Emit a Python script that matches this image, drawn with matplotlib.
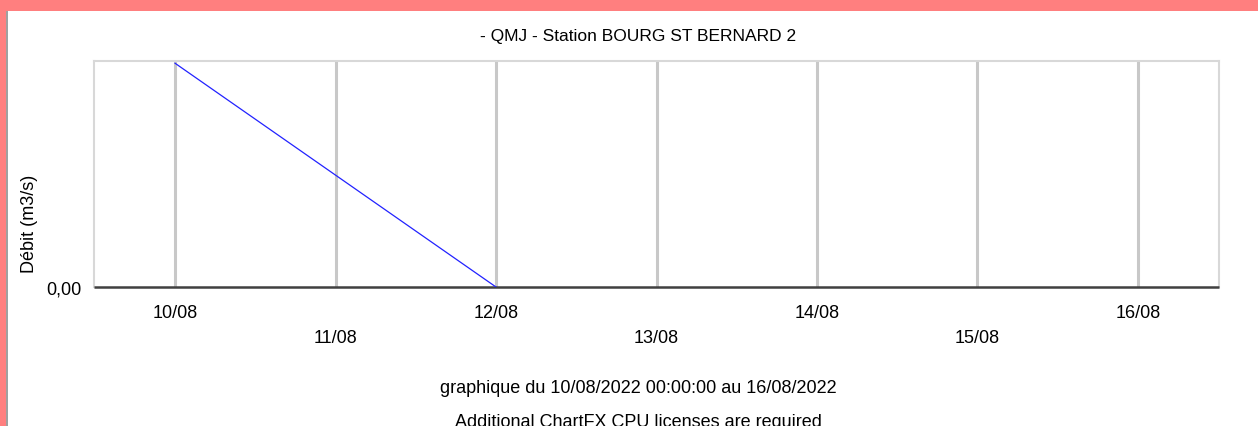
import matplotlib
matplotlib.use("Agg")
import matplotlib.pyplot as plt
import matplotlib.dates as mdates
import pandas as pd
from matplotlib.patches import Rectangle

# daily flow (QMJ), only 0,00 is labelled on the axis
dates = pd.to_datetime(["2022-08-10", "2022-08-11", "2022-08-12"])
debit = [1.0, 0.5, 0.0]

tick_days = pd.date_range("2022-08-10", "2022-08-16", freq="D")
tick_labels = [d.strftime("%d/%m") for d in tick_days]

title = "- QMJ - Station BOURG ST BERNARD 2"
ylabel = "Débit (m3/s)"
footer1 = "graphique du 10/08/2022 00:00:00 au 16/08/2022"
footer2 = "Additional ChartFX CPU licenses are required"

plt.rcParams["font.family"] = ["Liberation Sans", "DejaVu Sans"]
plt.rcParams["font.size"] = 13

W, H = 1258, 427
fig = plt.figure(figsize=(W / 100, H / 100), dpi=100)
fig.patch.set_facecolor("white")

# pink window border (top and left) with thin grey edge
fig.patches.append(Rectangle((0, 1 - 12 / H), 1, 12 / H, transform=fig.transFigure,
                             facecolor="#ff7f7f", edgecolor="none", zorder=0))
fig.patches.append(Rectangle((0, 0), 6 / W, 1, transform=fig.transFigure,
                             facecolor="#ff7f7f", edgecolor="none", zorder=0))
fig.patches.append(Rectangle((6 / W, 0), 1.5 / W, 1 - 12 / H, transform=fig.transFigure,
                             facecolor="#a0a0a0", edgecolor="none", zorder=0))

ax = fig.add_axes([94 / W, 1 - 288 / H, (1219 - 94) / W, (288 - 62) / H])

x = mdates.date2num(dates)
xt = mdates.date2num(tick_days)
ax.plot(x, debit, color="#2222ff", linewidth=0.9, zorder=3)

ax.set_xlim(xt[0] - 0.505, xt[-1] + 0.505)
ax.set_ylim(0, 1.01)

for v in xt:
    ax.axvline(v, color="#c8c8c8", linewidth=2.2, zorder=1)

ax.set_xticks(xt)
ax.set_xticklabels(tick_labels)
ax.set_yticks([0])
ax.set_yticklabels(["0,00"])
ax.tick_params(axis="both", length=0, labelsize=13)
ax.tick_params(axis="y", pad=9)
# staggered date labels, one row for even days, one lower for odd days
for i, t in enumerate(ax.xaxis.get_major_ticks()):
    t.set_pad(12 if i % 2 == 0 else 30)

for side in ["top", "left", "right"]:
    ax.spines[side].set_color("#d8d8d8")
    ax.spines[side].set_linewidth(1.5)
ax.spines["bottom"].set_color("#404040")
ax.spines["bottom"].set_linewidth(1.8)
ax.spines["bottom"].set_capstyle("butt")

fig.text(638 / W, 1 - 37 / H, title, ha="center", va="center", fontsize=12.5)
fig.text(30 / W, 1 - 224 / H, ylabel, ha="center", va="center", rotation=90, fontsize=13)
fig.text(638 / W, 1 - 389 / H, footer1, ha="center", va="center", fontsize=13)
fig.text(638 / W, 1 - 423 / H, footer2, ha="center", va="center", fontsize=13)

fig.savefig("out.png", dpi=100)
